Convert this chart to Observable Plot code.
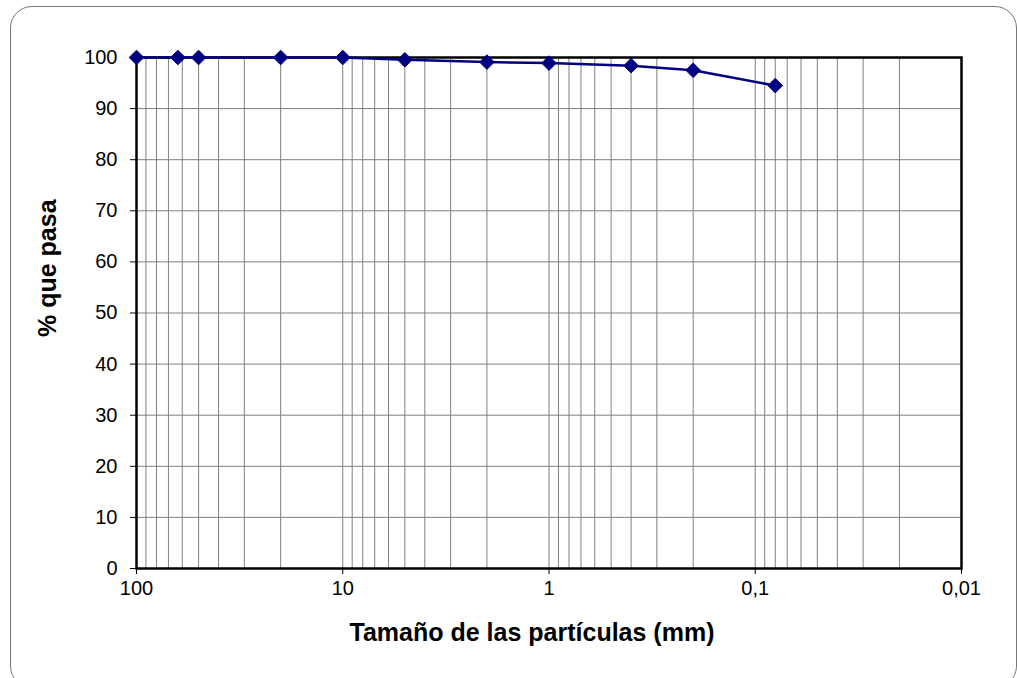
<!DOCTYPE html>
<html>
<head>
<meta charset="utf-8">
<script src="https://cdn.jsdelivr.net/npm/d3@7"></script>
<script src="https://cdn.jsdelivr.net/npm/@observablehq/plot@0.6"></script>
<style>
  html, body { margin: 0; padding: 0; background: #fff; }
  #wrap { position: relative; width: 1017px; height: 678px; overflow: hidden; }
  #border { position: absolute; left: 10px; top: 6px; width: 1007px; height: 682px;
            border: 1px solid #777; border-radius: 22px; box-sizing: border-box; pointer-events: none; }
</style>
</head>
<body>
<div id="wrap"><div id="border"></div></div>
<script>
// Data
const sizes = [100, 63, 50, 20, 10, 5, 2, 1, 0.4, 0.2, 0.08];          // mm
const passing = [100, 100, 100, 100, 100, 99.55, 99.1, 98.9, 98.4, 97.5, 94.5]; // %
const xTickValues = [100, 10, 1, 0.1, 0.01];
const xTickLabels = ["100", "10", "1", "0,1", "0,01"];
const yTickValues = [0, 10, 20, 30, 40, 50, 60, 70, 80, 90, 100];

const data = sizes.map((s, i) => ({size: s, pass: passing[i]}));
const decades = [100, 10, 1, 0.1];
const xGrid = decades.flatMap(d => d3.range(1, 10).map(k => d * k / 10)).filter(v => v < 100);
const font = "Arial, 'Liberation Sans', sans-serif";

const plot = Plot.plot({
  width: 1017,
  height: 678,
  marginLeft: 136,
  marginRight: 56,
  marginTop: 57,
  marginBottom: 110,
  style: {fontFamily: font, background: "transparent", color: "#000"},
  x: {type: "log", domain: [100, 0.01], ticks: xTickValues, tickFormat: () => "", tickSize: 6, label: null},
  y: {domain: [0, 100], ticks: yTickValues, tickFormat: () => "", tickSize: 6, label: null},
  marks: [
    Plot.ruleX(xGrid, {x: d => d, stroke: "#808080", strokeWidth: 1}),
    Plot.ruleY(yTickValues.filter(v => v > 0 && v < 100), {y: d => d, stroke: "#808080", strokeWidth: 1}),
    Plot.frame({stroke: "#000", strokeWidth: 2.5}),
    Plot.text(xTickValues, {x: d => d, text: (d, i) => xTickLabels[i], frameAnchor: "bottom", dy: 26,
      fontSize: 20, fill: "#000", fontFamily: font}),
    Plot.text(yTickValues, {y: d => d, text: d => String(d), frameAnchor: "left", dx: -19, textAnchor: "end",
      fontSize: 20, fill: "#000", fontFamily: font}),
    Plot.line(data, {x: "size", y: "pass", stroke: "#000080", strokeWidth: 2.5}),
    Plot.dot(data, {x: "size", y: "pass", symbol: "diamond2", r: 6.6, fill: "#000080", stroke: "#000080", strokeWidth: 1}),
    Plot.text(["Tamaño de las partículas (mm)"], {frameAnchor: "bottom", dx: -17, dy: 72, fontSize: 25, fontWeight: "bold", fill: "#000", fontFamily: font}),
    Plot.text(["% que pasa"], {frameAnchor: "left", rotate: -90, dx: -89, dy: 24, fontSize: 25, fontWeight: "bold", fill: "#000", fontFamily: font})
  ]
});
document.getElementById("wrap").prepend(plot);
plot.style.position = "absolute";
plot.style.left = "0";
plot.style.top = "0";
</script>
</body>
</html>
